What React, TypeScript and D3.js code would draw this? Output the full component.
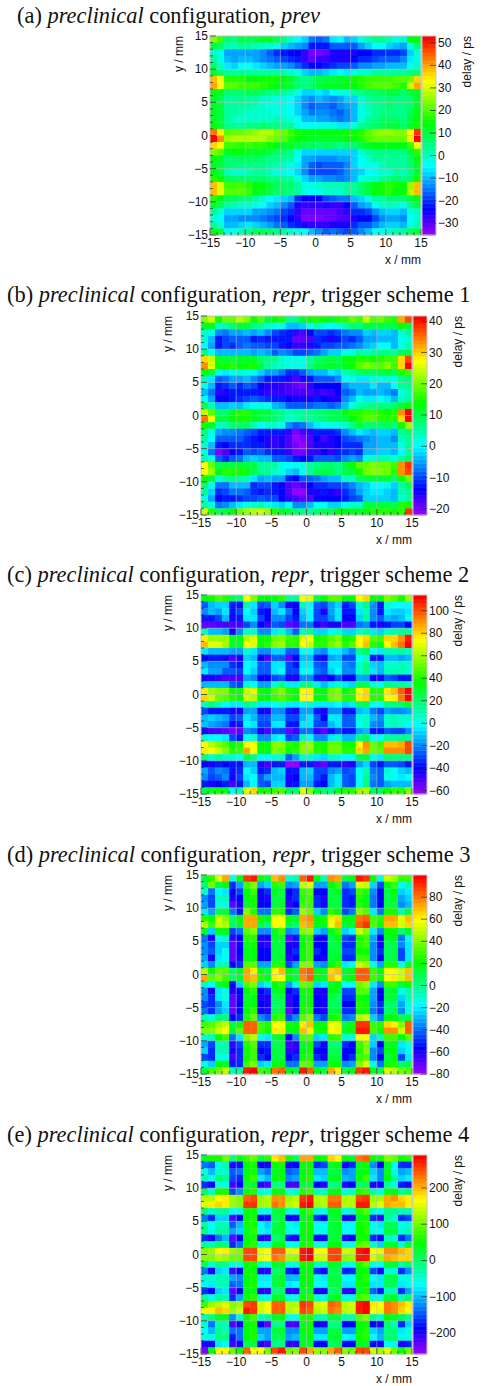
import React from "react"
import * as d3 from "d3"

// delay in ps, rows from y = 15 down to y = -15, columns from x = -15 to x = 15
const delayA: number[][] = [
  [24,19,6,5,9,8,10,11,11,8,4,-1,-5,-8,-15,-16,-15,-6,-5,-9,-8,-3,1,5,4,1,-3,-1,14,13],
  [10,7,1,1,3,2,1,0,0,-2,-7,-10,-12,-14,-22,-22,-22,-17,-16,-17,-16,-11,-8,-5,-5,-8,-9,-11,-2,6],
  [-1,-3,-12,-12,-11,-11,-12,-14,-16,-20,-22,-23,-24,-28,-32,-32,-30,-26,-26,-26,-25,-24,-23,-21,-20,-20,-20,-18,-7,-3],
  [2,-3,-10,-11,-10,-10,-12,-14,-15,-16,-18,-20,-22,-28,-30,-28,-27,-25,-25,-25,-23,-21,-20,-18,-17,-16,-16,-14,-6,-2],
  [6,0,-6,-7,-5,-4,-6,-7,-10,-11,-11,-13,-17,-20,-23,-23,-22,-20,-19,-19,-17,-14,-13,-11,-11,-10,-10,-9,-3,-1],
  [12,6,2,2,3,3,3,3,2,2,1,-1,-3,-8,-10,-10,-8,-6,-5,-6,-2,-1,0,2,2,3,3,2,4,7],
  [38,32,17,16,16,14,14,15,15,15,13,12,6,5,6,10,10,10,11,11,15,16,18,19,19,19,20,20,22,36],
  [40,32,20,20,19,18,18,16,15,13,12,10,6,5,6,10,11,12,12,13,14,17,18,20,20,20,18,17,30,40],
  [14,12,6,6,7,8,8,7,5,4,3,1,-3,-8,-8,-6,-7,-4,-3,-2,2,5,7,7,8,9,9,7,10,12],
  [11,8,3,2,4,3,3,0,0,-3,-3,-4,-7,-12,-14,-10,-11,-14,-11,-8,-8,0,3,5,5,7,5,4,7,12],
  [12,9,2,3,3,2,1,0,-2,-3,-3,-4,-7,-13,-16,-15,-15,-17,-14,-12,-10,-2,1,3,5,6,5,4,6,12],
  [12,10,3,2,1,0,0,0,-1,-2,-2,-5,-7,-12,-15,-14,-13,-15,-17,-14,-10,-3,0,3,5,5,5,5,8,13],
  [12,10,3,0,-1,-1,0,0,-1,1,0,-3,-5,-9,-10,-11,-12,-14,-15,-13,-9,-3,2,4,6,6,6,5,9,13],
  [13,10,4,3,3,4,4,6,5,4,3,2,-2,-4,-4,-3,-3,-3,-6,-6,-3,2,5,7,8,9,9,7,12,15],
  [44,34,20,22,22,24,26,28,28,24,22,18,15,14,14,13,13,13,14,15,15,17,20,24,25,25,24,24,32,49],
  [52,42,26,28,28,28,28,27,24,22,20,16,14,13,12,12,12,12,12,13,14,16,20,22,22,22,22,22,34,52],
  [36,33,18,18,17,18,17,17,15,14,12,11,10,8,8,7,8,7,5,7,7,9,11,13,13,13,13,14,18,32],
  [24,20,12,13,13,12,12,11,9,7,6,5,-2,-8,-8,-8,-8,-8,-8,-8,-8,0,3,4,4,5,5,5,9,16],
  [13,11,7,7,8,8,8,7,5,4,3,2,-4,-11,-11,-13,-13,-13,-12,-11,-7,-4,0,2,3,3,3,3,6,13],
  [12,10,6,4,4,5,5,4,3,1,0,-2,-6,-11,-16,-18,-17,-17,-16,-14,-8,-5,-3,-3,1,2,3,3,6,12],
  [13,10,1,-1,0,1,2,3,1,-3,-3,-5,-8,-13,-18,-19,-19,-18,-17,-14,-9,-7,-4,-2,-1,0,2,1,4,12],
  [17,14,8,6,6,6,7,7,5,4,3,2,-3,-8,-11,-12,-13,-14,-15,-14,-9,-3,-1,0,2,5,6,4,7,15],
  [38,31,19,18,18,16,13,14,10,8,7,6,3,-2,-3,-1,1,1,1,2,3,7,9,13,15,16,15,14,26,38],
  [38,31,20,20,20,18,14,12,9,7,7,5,3,-2,-4,-2,0,-1,0,2,3,7,9,13,15,16,14,14,27,38],
  [17,13,8,8,7,7,3,0,-5,-6,-7,-10,-20,-24,-24,-23,-18,-17,-15,-15,-10,-7,-2,2,3,7,7,6,9,13],
  [12,8,2,1,0,0,-2,-5,-7,-10,-13,-17,-25,-28,-28,-28,-26,-27,-27,-23,-17,-12,-9,-5,0,1,0,-3,5,9],
  [2,-3,-8,-8,-7,-8,-11,-12,-13,-15,-18,-21,-27,-31,-31,-31,-30,-31,-29,-28,-21,-20,-18,-14,-9,-7,-7,-9,-3,0],
  [-2,-4,-11,-12,-13,-14,-14,-15,-16,-19,-20,-23,-28,-32,-33,-32,-30,-30,-29,-29,-25,-24,-23,-19,-14,-12,-12,-13,-5,-1],
  [2,-3,-10,-10,-8,-6,-7,-10,-12,-15,-16,-20,-22,-25,-27,-27,-27,-26,-25,-25,-21,-17,-16,-13,-10,-8,-8,-9,-3,1],
  [14,9,-3,-3,1,4,8,8,7,5,2,-1,-3,-5,-10,-14,-16,-15,-17,-19,-16,-13,-10,-4,-2,0,2,2,8,10],
]

const delayB: number[][] = [
  [21,25,14,20,19,23,21,14,18,10,13,15,6,7,12,14,16,14,12,15,16,19,17,24,18,20,17,15,32,37],
  [12,12,3,4,8,10,11,7,6,3,2,2,-3,-4,-2,2,4,1,0,1,4,8,7,10,9,10,9,9,14,10],
  [3,1,-6,-7,-5,-5,-3,-5,-3,-6,-10,-11,-13,-16,-17,-14,-10,-10,-11,-10,-7,-6,-6,-2,-3,-2,-2,-4,3,6],
  [3,-3,-12,-10,-9,-8,-8,-12,-11,-12,-12,-13,-13,-19,-19,-17,-11,-13,-15,-13,-10,-11,-9,-5,-5,-3,-3,-4,1,3],
  [0,-5,-13,-10,-11,-8,-7,-9,-9,-10,-10,-12,-14,-16,-16,-15,-13,-10,-10,-8,-8,-7,-6,-3,-2,0,0,-3,2,4],
  [7,2,-4,-4,-4,-3,-3,-5,-4,-5,-8,-6,-7,-10,-10,-9,-7,-5,-2,-2,2,2,5,4,6,7,7,5,9,10],
  [30,24,12,11,11,12,12,12,8,7,7,3,2,2,2,5,8,9,11,9,13,13,16,15,14,16,17,17,30,37],
  [33,26,14,14,15,13,14,14,10,6,4,3,1,1,2,7,10,11,12,10,12,14,18,21,20,18,21,17,30,41],
  [13,10,1,-1,1,3,2,1,-2,-5,-5,-7,-11,-11,-8,-5,-3,-3,-1,-2,4,5,8,9,8,11,10,9,15,17],
  [4,-1,-9,-7,-5,-5,-4,-6,-8,-12,-13,-13,-15,-17,-15,-12,-9,-8,-8,-6,0,2,-1,-1,3,2,3,1,7,8],
  [1,-3,-12,-11,-9,-11,-9,-10,-14,-15,-15,-16,-17,-19,-20,-16,-14,-14,-14,-14,-6,-4,-3,-3,-1,-3,-3,0,5,7],
  [-3,-7,-16,-15,-12,-12,-12,-12,-15,-16,-16,-16,-18,-18,-17,-17,-16,-18,-16,-14,-9,-7,-3,-5,-5,-4,-5,-7,2,4],
  [0,-5,-14,-14,-12,-11,-10,-9,-10,-11,-12,-13,-14,-15,-15,-15,-12,-14,-15,-15,-6,-4,1,-1,-1,0,-1,-3,3,6],
  [9,4,-3,-3,-2,-4,-1,0,1,0,-3,-5,-9,-9,-8,-9,-7,-7,-8,-7,-3,2,4,6,7,7,7,8,11,13],
  [25,18,8,8,12,15,16,12,10,10,8,7,4,5,6,7,8,8,9,9,13,16,15,17,17,15,14,15,33,42],
  [35,27,10,10,13,14,14,12,10,9,8,5,3,4,5,6,7,8,9,9,11,13,15,18,18,16,15,15,30,41],
  [14,12,3,4,8,8,9,4,0,3,3,2,-6,-8,-7,-3,-1,0,1,1,3,7,11,8,8,8,9,7,14,22],
  [7,2,-5,-6,-6,-7,-9,-10,-12,-12,-13,-13,-16,-20,-18,-16,-13,-12,-12,-11,-6,-3,-1,-2,-3,-2,-2,-3,5,8],
  [5,0,-9,-9,-8,-8,-11,-12,-14,-15,-16,-15,-18,-21,-20,-18,-14,-17,-15,-14,-10,-9,-7,-6,-5,-4,-4,-6,4,6],
  [3,-3,-13,-14,-11,-11,-11,-13,-13,-15,-16,-15,-17,-20,-21,-18,-15,-15,-15,-14,-11,-11,-11,-5,-5,-3,-3,-4,2,5],
  [2,-7,-20,-18,-14,-13,-8,-10,-9,-11,-13,-13,-16,-20,-20,-16,-16,-14,-16,-13,-11,-10,-11,-4,-3,-2,-2,-4,0,5],
  [4,1,-9,-11,-8,-7,-3,-2,-4,-4,-8,-9,-10,-12,-14,-12,-8,-8,-9,-10,-6,-5,-6,2,3,4,4,2,6,9],
  [27,20,9,10,10,12,10,10,6,5,5,2,0,1,1,5,7,8,8,7,11,14,18,20,21,20,19,17,33,38],
  [27,22,13,15,15,14,14,9,7,5,3,2,-2,-3,0,5,9,10,9,7,9,11,14,20,21,21,19,16,33,37],
  [14,11,2,5,7,6,4,-1,-5,-4,-5,-5,-13,-14,-9,-9,-7,-5,-3,-3,4,3,9,10,10,11,11,8,14,20],
  [8,1,-7,-7,-3,-3,-3,-11,-10,-10,-12,-14,-18,-19,-18,-14,-11,-11,-10,-10,-9,-6,-3,-2,0,0,1,-2,6,9],
  [5,-2,-11,-10,-7,-7,-8,-11,-12,-11,-13,-14,-18,-21,-21,-15,-15,-13,-15,-16,-11,-9,-5,-2,-1,-1,-2,-4,4,6],
  [2,-5,-14,-13,-12,-11,-10,-10,-9,-10,-10,-14,-16,-18,-19,-17,-14,-14,-14,-14,-12,-10,-9,-2,-2,-2,-2,-4,3,6],
  [5,1,-7,-6,-4,-1,2,3,4,1,-1,-2,0,-6,-6,-3,0,0,-2,-2,2,3,3,10,10,11,10,9,15,14],
  [24,15,9,10,13,19,22,23,24,22,16,12,10,8,7,5,8,9,9,13,13,12,12,13,15,16,15,14,16,38],
]

const delayC: number[][] = [
  [35,38,50,42,25,20,72,56,33,33,36,42,14,14,72,70,25,38,50,47,35,35,72,80,33,33,55,48,38,60],
  [-25,-12,-8,-8,-35,-35,12,-5,-30,-25,-8,-18,-45,-40,10,0,-25,-30,-15,-8,-35,-30,5,15,-20,-35,5,-2,-2,0],
  [-20,-12,-15,-5,-35,-30,0,-8,-35,-40,-12,-5,-22,-40,-8,0,-30,-45,-15,-5,-35,-35,-4,10,-18,-35,-5,-8,-8,-5],
  [-35,-35,-30,-10,-45,-35,-5,-5,-30,-40,-20,-18,-30,-38,-10,-2,-30,-30,-18,-5,-40,-40,-8,12,-18,-25,-12,-15,-10,-2],
  [-55,-55,-52,-52,-52,-50,-28,-20,-40,-48,-25,-30,-55,-50,-22,-22,-45,-52,-42,-42,-50,-50,-22,-20,-38,-42,-38,-30,-30,-40],
  [5,-10,-10,-15,-42,-20,5,5,-18,-18,-5,5,-12,-25,10,15,-8,-8,0,5,-8,-8,5,12,-5,-8,5,10,12,12],
  [78,58,58,58,30,33,62,68,34,38,52,55,45,40,70,72,38,40,50,55,38,42,72,80,48,45,80,82,92,110],
  [85,70,68,58,30,30,75,68,35,40,55,58,42,40,72,65,42,40,52,58,42,48,75,85,42,38,72,85,95,112],
  [-5,-10,-12,-12,-15,-15,5,-3,-20,-20,-8,-8,-25,-25,0,0,-15,-20,-5,-3,-12,-20,15,25,0,-5,8,10,12,10],
  [-40,-38,-38,-42,-50,-42,-8,-10,-40,-50,-25,-25,-55,-40,-10,-10,-35,-45,-15,-12,-30,-30,-2,5,-35,-35,-10,-10,-15,-10],
  [-10,-20,-20,-20,-32,-38,0,-5,-25,-25,-5,-5,-30,-35,-5,-5,-25,-28,-5,-5,-20,-22,5,15,-8,-12,5,5,8,5],
  [-5,-15,-15,-25,-25,-30,-2,-8,-25,-25,-5,-2,-28,-28,-2,0,-22,-25,-8,0,-18,-18,5,15,-5,-10,10,8,8,5],
  [-42,-45,-48,-50,-52,-50,-15,-20,-40,-40,-30,-25,-42,-45,-20,-18,-35,-48,-40,-30,-40,-40,-15,-15,-40,-42,-25,-30,-35,-35],
  [-10,-12,-12,-10,-25,-30,5,0,-15,-15,5,15,-5,-5,15,15,-5,-10,-5,5,-5,-8,25,25,5,0,15,12,12,8],
  [78,58,55,55,38,38,65,68,38,35,50,55,42,38,72,78,35,35,52,55,35,40,72,80,42,40,78,85,98,112],
  [82,65,52,50,40,35,65,62,35,35,45,48,40,35,72,72,35,35,52,55,40,40,78,82,42,40,75,78,95,112],
  [10,15,8,0,-5,-5,15,8,-5,-5,0,5,-5,-5,0,5,-5,-5,-3,0,-8,-5,20,22,0,-2,15,15,20,30],
  [-30,-35,-38,-35,-42,-42,-15,-15,-40,-42,-18,-18,-38,-45,-15,-15,-38,-42,-20,-18,-35,-35,-10,-8,-22,-28,-15,-18,-18,-15],
  [-10,-8,-10,-15,-30,-25,-5,-12,-25,-25,-10,-10,-30,-30,-10,-5,-25,-40,-5,-5,-25,-25,5,5,-12,-20,5,10,5,5],
  [-12,-15,-20,-22,-42,-35,0,-5,-30,-30,-5,-5,-38,-35,-5,-5,-30,-30,-10,-5,-25,-25,0,8,-18,-22,5,8,5,0],
  [-45,-52,-50,-55,-58,-55,-20,-22,-45,-50,-30,-30,-55,-48,-22,-22,-48,-55,-38,-30,-38,-38,-15,-12,-35,-35,-25,-28,-30,-20],
  [5,0,0,-5,-28,-38,0,5,-18,-20,-5,0,-30,-25,10,0,-18,-18,-5,5,-10,-12,15,22,0,-2,12,12,15,12],
  [72,62,55,48,35,42,75,75,35,35,55,55,40,38,55,60,38,38,52,52,38,38,75,90,52,45,85,85,88,102],
  [78,75,65,55,42,45,88,75,35,35,55,52,38,40,55,55,40,38,52,52,40,40,80,88,52,50,90,90,90,102],
  [15,5,12,5,5,0,25,18,0,0,5,5,-25,-15,5,5,-5,-8,5,5,-2,-2,25,28,2,-5,20,18,15,15],
  [-40,-42,-38,-40,-38,-35,-10,-10,-45,-50,-38,-38,-62,-60,-38,-38,-50,-55,-35,-38,-48,-45,-15,-8,-28,-35,-25,-25,-30,-35],
  [-15,-25,-18,-22,-35,-32,-2,-8,-35,-32,-10,-8,-35,-35,-10,-8,-30,-30,-20,-15,-30,-25,-2,10,-22,-25,5,0,-8,-10],
  [-20,-28,-25,-20,-42,-30,-5,0,-25,-15,-12,-10,-42,-40,-10,-10,-30,-38,-10,-5,-25,-28,0,15,-20,-25,2,-2,-5,-2],
  [-38,-42,-40,-38,-52,-35,-12,0,-25,-28,-8,-8,-42,-38,-15,-15,-35,-40,-10,-5,-25,-30,0,15,-22,-25,-15,-12,-10,-10],
  [28,32,38,30,0,10,68,80,38,40,45,48,25,20,70,55,28,20,15,30,40,42,60,62,25,25,38,45,40,55],
]

const delayD: number[][] = [
  [10,25,55,72,-12,20,90,95,22,10,70,75,-10,-8,82,95,18,-8,75,72,10,20,95,90,18,-14,52,45,30,30],
  [5,38,12,18,-50,-30,28,40,-30,-25,25,30,-35,-30,50,55,-30,-30,20,30,-40,-30,55,50,-25,-45,20,30,-15,-8],
  [-10,-40,-18,-20,-55,-45,18,28,-55,-50,15,12,-55,-50,30,35,-55,-55,12,15,-50,-45,30,25,-35,-55,12,18,-25,-20],
  [-35,-45,-10,-8,-60,-58,18,22,-55,-60,12,12,-60,-50,25,28,-50,-60,10,10,-50,-52,25,20,-40,-55,10,15,-32,-25],
  [-30,-45,-15,-15,-72,-60,15,22,-55,-55,12,15,-65,-55,28,30,-50,-62,12,12,-50,-52,25,20,-40,-55,10,10,-35,-28],
  [-20,-30,8,10,-40,-52,40,25,-40,-40,25,25,-48,-42,45,38,-25,-35,25,20,-45,-40,42,32,-22,-40,22,22,-5,10],
  [25,18,50,42,5,18,72,72,22,20,60,60,22,15,72,75,20,22,55,65,18,20,80,85,28,25,72,72,55,70],
  [48,30,52,48,8,15,72,72,12,5,58,58,12,5,68,72,20,18,58,68,15,15,85,92,32,22,68,68,55,65],
  [15,-25,18,20,-45,-38,35,42,-35,-35,15,30,-35,-30,40,45,-25,-30,15,30,-25,-18,50,40,-20,-35,20,22,5,15],
  [-40,-60,-15,-10,-65,-55,25,25,-60,-62,15,12,-70,-52,22,25,-55,-55,12,18,-45,-48,25,30,-30,-55,15,18,-40,-15],
  [-35,-45,-25,-25,-72,-60,15,22,-60,-65,12,10,-62,-60,20,28,-55,-55,8,12,-50,-50,25,28,-35,-60,8,8,-35,-22],
  [-35,-42,-25,-15,-72,-55,18,18,-55,-55,10,12,-60,-50,22,28,-50,-55,10,10,-45,-45,22,22,-35,-50,8,10,-45,-22],
  [-30,-60,-22,-18,-70,-60,18,20,-55,-55,12,15,-65,-55,22,30,-55,-60,10,15,-50,-50,28,28,-35,-55,8,12,-45,-20],
  [-25,-35,-5,-8,-55,-48,35,35,-30,-30,25,25,-45,-30,40,42,-30,-35,20,28,-20,-15,50,45,-15,-30,25,25,-15,15],
  [48,22,38,32,5,15,72,62,18,12,60,68,20,12,80,85,18,15,65,68,15,18,82,85,30,18,60,60,50,70],
  [72,32,40,28,5,15,72,68,25,15,62,58,22,12,78,82,20,15,70,62,15,20,82,82,28,22,60,62,50,70],
  [-8,-18,12,18,-55,-25,35,40,-25,-10,20,25,-30,-15,38,35,-25,-20,12,18,-18,-18,38,45,-22,-35,28,30,12,22],
  [-35,-60,-20,-15,-62,-55,20,25,-55,-50,15,18,-55,-50,22,22,-60,-60,18,15,-45,-45,32,32,-30,-55,10,15,-15,-5],
  [-35,-50,-22,-15,-72,-60,15,20,-60,-62,8,10,-65,-58,15,22,-55,-62,10,5,-48,-48,22,20,-30,-55,10,12,-25,-8],
  [-45,-50,-35,-20,-70,-58,18,20,-55,-60,5,8,-65,-55,22,22,-55,-60,8,8,-55,-55,25,22,-35,-50,5,5,-30,-15],
  [-40,-50,-30,-25,-72,-58,18,25,-58,-60,8,10,-70,-58,22,25,-55,-60,10,12,-50,-50,22,22,-40,-50,5,12,-35,-12],
  [-5,-15,5,0,-55,-50,25,38,-35,-42,25,28,-45,-35,35,40,-40,-45,22,25,-40,-35,48,50,-25,-40,18,18,8,12],
  [28,32,45,50,10,22,82,82,28,25,60,60,22,20,62,68,18,22,60,55,10,22,92,92,30,25,65,62,42,82],
  [40,42,50,60,15,35,85,85,28,22,62,62,18,18,70,62,22,22,58,62,15,22,95,95,30,22,78,78,50,85],
  [-10,-5,18,28,-40,-20,42,48,-15,-22,12,15,-55,-35,32,32,-25,-20,25,30,-10,-15,60,60,-25,-8,30,30,20,35],
  [-30,-45,-5,-5,-65,-45,25,35,-50,-50,8,10,-68,-65,15,22,-45,-60,5,5,-50,-55,30,42,-25,-55,15,18,-22,-12],
  [-25,-50,-8,-8,-60,-48,22,30,-55,-52,12,10,-65,-62,20,22,-55,-55,8,8,-55,-55,25,42,-35,-45,18,18,-25,-15],
  [-45,-50,-15,-12,-68,-50,22,30,-50,-55,10,10,-55,-48,22,25,-50,-60,10,10,-55,-50,28,35,-35,-55,12,18,-45,-20],
  [-15,-25,18,15,-52,-48,28,42,-25,-20,18,18,-40,-40,38,35,-30,-30,22,20,-35,-30,40,55,-15,-40,22,25,5,12],
  [10,28,38,50,-5,0,95,98,30,25,80,85,20,10,95,85,20,10,72,62,10,20,90,95,18,10,55,48,38,32],
]

const delayE: number[][] = [
  [30,50,55,100,-10,50,80,95,20,70,175,200,60,-5,210,205,40,50,185,170,45,30,230,240,50,60,105,100,55,65],
  [-130,-140,-60,-30,-200,-180,40,60,-190,-200,60,60,-200,-190,50,40,-160,-150,30,40,-190,-170,30,55,-120,-190,30,-60,-170,-160],
  [-60,-100,-40,-40,-140,-130,45,60,-110,-130,30,45,-140,-130,40,50,-100,-100,20,20,-120,-110,35,55,-90,-120,30,-50,-110,-100],
  [-30,-60,-5,-20,-150,-160,60,75,-80,-100,40,50,-120,-110,60,65,-80,-85,30,30,-100,-110,50,75,-75,-125,45,-20,-90,-80],
  [-160,-195,-60,-60,-225,-200,20,35,-210,-215,-15,-10,-225,-225,20,25,-190,-205,-10,0,-210,-190,0,15,-195,-200,-25,-60,-180,-195],
  [0,-40,50,60,-150,-120,50,70,-50,-50,40,45,-60,-45,65,75,-30,-40,30,45,-60,-40,70,75,-35,-60,35,40,-20,0],
  [130,135,170,175,125,115,240,250,120,135,220,225,120,135,265,280,130,135,230,235,130,130,255,265,120,120,205,215,190,175],
  [155,180,185,175,125,115,265,265,120,135,235,225,135,145,270,285,125,130,245,240,130,135,270,280,130,150,210,195,195,175],
  [0,-40,-25,-25,-70,-60,40,60,-50,-60,20,30,-60,-50,60,75,-50,-55,30,35,-50,-45,70,85,-40,-65,-15,-10,-30,-30],
  [-130,-160,-90,-90,-220,-190,40,50,-190,-195,15,20,-190,-200,35,40,-160,-190,20,30,-195,-195,35,50,-160,-205,-20,-40,-170,-150],
  [-20,-70,-30,-35,-140,-100,55,60,-65,-85,10,35,-60,-80,40,50,-70,-70,20,30,-65,-70,50,65,-60,-75,15,15,-50,-45],
  [-10,-60,-20,-20,-115,-90,35,70,-60,-80,25,35,-55,-70,45,55,-60,-60,25,30,-70,-65,55,70,-55,-70,20,20,-45,-30],
  [-160,-200,-130,-100,-230,-190,40,50,-200,-210,5,15,-180,-195,40,45,-195,-195,25,20,-205,-190,50,60,-170,-195,-30,-40,-170,-130],
  [-20,-30,-5,-10,-170,-130,50,70,-60,-50,35,40,-70,-55,60,70,-50,-60,45,40,-60,-55,85,95,-40,-90,25,35,-45,20],
  [110,125,165,175,120,115,250,250,150,170,240,240,150,150,280,285,160,170,255,255,140,145,280,285,170,150,225,220,195,190],
  [115,115,130,125,100,100,250,250,150,165,235,225,120,120,275,285,145,145,250,255,115,120,275,280,140,125,205,200,185,185],
  [10,-40,-10,-20,-60,-40,45,50,-40,-55,30,30,-55,-45,60,60,-40,-40,35,30,-60,-60,70,85,-60,-70,20,20,-30,0],
  [-130,-200,-85,-75,-220,-185,50,40,-200,-205,0,15,-175,-185,40,40,-170,-195,10,10,-175,-170,40,60,-150,-200,-40,-45,-160,-125],
  [-40,-40,-30,-30,-110,-120,40,60,-80,-80,20,30,-100,-95,40,50,-60,-75,20,25,-70,-70,45,70,-70,-80,10,20,-60,-50],
  [-60,-80,-30,-35,-145,-130,45,60,-60,-65,25,35,-75,-70,45,45,-70,-70,15,25,-80,-75,50,60,-75,-80,10,15,-75,-50],
  [-165,-190,-85,-80,-235,-190,40,45,-200,-205,-10,5,-210,-205,30,35,-195,-195,5,10,-205,-200,35,50,-145,-175,-30,-35,-160,-110],
  [-20,-50,-20,-30,-165,-115,45,65,-45,-50,30,35,-55,-50,55,65,-40,-50,25,30,-60,-50,75,90,-50,-60,20,30,-30,5],
  [80,120,135,150,110,125,255,260,145,160,245,240,130,135,260,250,140,150,240,235,130,140,270,285,180,170,235,225,195,175],
  [165,175,195,185,125,145,270,265,145,165,245,240,135,145,255,245,130,140,230,225,135,140,275,285,165,150,235,225,185,170],
  [-30,-10,30,35,-120,-40,60,75,-40,-25,30,40,-60,-55,65,70,-25,-30,20,25,-30,-35,90,105,-25,-45,40,35,10,-20],
  [-40,-130,-30,-30,-225,-195,40,60,-190,-235,-10,-10,-225,-225,35,50,-190,-195,-10,-10,-190,-185,40,50,-190,-195,-5,-30,-160,-85],
  [-65,-100,-15,-30,-130,-130,40,55,-110,-115,20,30,-120,-125,45,50,-105,-105,20,25,-115,-105,45,65,-90,-115,-15,-5,-80,-60],
  [-50,-60,-15,-10,-180,-130,45,55,-85,-105,15,15,-110,-100,35,45,-80,-80,25,30,-70,-80,50,65,-70,-100,0,0,-60,-50],
  [-200,-195,-80,-70,-225,-195,15,25,-200,-215,-10,-10,-210,-210,30,35,-190,-190,0,10,-190,-190,30,35,-185,-195,-70,-60,-195,-175],
  [-240,40,170,170,100,55,245,170,165,100,250,280,100,115,250,205,120,115,205,240,110,100,255,250,140,120,155,100,55,100],
]

const axisTicks = [-15, -10, -5, 0, 5, 10, 15]
const minorTicks = d3.range(-15, 16)

const colorTicksA = [-30, -20, -10, 0, 10, 20, 30, 40, 50]
const colorTicksB = [-20, -10, 0, 10, 20, 30, 40]
const colorTicksC = [-60, -40, -20, 0, 20, 40, 60, 80, 100]
const colorTicksD = [-80, -60, -40, -20, 0, 20, 40, 60, 80]
const colorTicksE = [-200, -100, 0, 100, 200]

// ROOT's rainbow palette, 50 steps of hue
const palette = d3.range(50).map((i) => d3.hsl(280 - (i + 1) * 5.6, 1, 0.5).formatRgb())

const plotW = 211
const plotH = 199
const minus = (v: number) => (v < 0 ? "\u2212" + -v : "" + v)

function Heatmap(props: any) {
  const { left, top, data, range, ticks, yLabelX } = props
  const x = d3.scaleLinear().domain([-15, 15]).range([left, left + plotW])
  const y = d3.scaleLinear().domain([-15, 15]).range([top + plotH, top])
  const color = d3.scaleQuantize<string>().domain(range).range(palette)
  const c = d3.scaleLinear().domain(range).range([top + plotH, top])
  const barX = left + plotW + 1
  const barW = 14
  const steps = d3.range(50).map((i) => range[0] + ((range[1] - range[0]) * (i + 0.5)) / 50)
  const stepH = plotH / 50

  return (
    <g fontFamily="'Liberation Sans', sans-serif" fontSize={12} fill="#111">
      <g filter="url(#soft)">
        {data.map((row: number[], r: number) =>
          row.map((v, k) => (
            <rect
              key={r + "-" + k}
              x={x(-15 + k)}
              y={y(15 - r)}
              width={x(-14 + k) - x(-15 + k) + 0.4}
              height={y(14 - r) - y(15 - r) + 0.4}
              fill={color(v)}
            />
          ))
        )}
      </g>
      {axisTicks.slice(1, -1).map((t) => (
        <g key={t} stroke="#b9b9c4" strokeOpacity={0.55}>
          <line x1={x(t)} x2={x(t)} y1={top} y2={top + plotH} />
          <line x1={left} x2={left + plotW} y1={y(t)} y2={y(t)} />
        </g>
      ))}
      <rect x={left} y={top} width={plotW} height={plotH} fill="none" stroke="#c4c4c4" />
      {minorTicks.map((t) => {
        const len = t % 5 === 0 ? 6 : 3
        return (
          <g key={t} stroke="#333" strokeOpacity={0.75}>
            <line x1={left} x2={left + len} y1={y(t)} y2={y(t)} />
            <line x1={x(t)} x2={x(t)} y1={top + plotH} y2={top + plotH - len} />
          </g>
        )
      })}
      {axisTicks.map((t) => (
        <text key={"y" + t} x={left - 2} y={y(t) + 4} textAnchor="end">
          {minus(t)}
        </text>
      ))}
      {axisTicks.map((t) => (
        <text key={"x" + t} x={x(t)} y={top + plotH + 12} textAnchor="middle">
          {minus(t)}
        </text>
      ))}
      <text x={left + plotW} y={top + plotH + 29} textAnchor="end">
        x / mm
      </text>
      <text transform={`translate(${yLabelX},${top}) rotate(-90)`} textAnchor="end">
        y / mm
      </text>

      {steps.map((v, i) => (
        <rect
          key={i}
          x={barX}
          y={top + plotH - (i + 1) * stepH}
          width={barW}
          height={stepH + 0.4}
          fill={color(v)}
        />
      ))}
      <rect x={barX} y={top} width={barW} height={plotH} fill="none" stroke="#c4c4c4" />
      {ticks.map((t: number) => (
        <g key={t}>
          <line x1={barX + barW - 6} x2={barX + barW} y1={c(t)} y2={c(t)} stroke="#333" strokeOpacity={0.75} />
          <text x={barX + barW + 2} y={c(t) + 4}>
            {minus(t)}
          </text>
        </g>
      ))}
      <text transform={`translate(${left + 261},${top}) rotate(-90)`} textAnchor="end">
        delay / ps
      </text>
    </g>
  )
}

function Title(props: any) {
  return (
    <text x={props.x} y={props.y} fontFamily="'Liberation Serif', serif" fontSize={22.4} fill="#111">
      {props.label} <tspan fontStyle="italic">preclinical</tspan> configuration, <tspan fontStyle="italic">{props.mode}</tspan>
      {props.rest}
    </text>
  )
}

export default function App() {
  return (
    <svg width={493} height={1386} style={{ position: "absolute", left: 0, top: 0 }}>
      <defs>
        <filter id="soft" x="-2%" y="-2%" width="104%" height="104%">
          <feGaussianBlur stdDeviation={0.35} />
        </filter>
      </defs>
      <Title x={17} y={23} label="(a)" mode="prev" rest="" />
      <Heatmap left={210} top={36} data={delayA} range={[-35.2, 53]} ticks={colorTicksA} yLabelX={183} />

      <Title x={7} y={302} label="(b)" mode="repr" rest=", trigger scheme 1" />
      <Heatmap left={201} top={316} data={delayB} range={[-22, 41.7]} ticks={colorTicksB} yLabelX={172} />

      <Title x={7} y={582} label="(c)" mode="repr" rest=", trigger scheme 2" />
      <Heatmap left={201} top={595} data={delayC} range={[-63, 114]} ticks={colorTicksC} yLabelX={172} />

      <Title x={7} y={862} label="(d)" mode="repr" rest=", trigger scheme 3" />
      <Heatmap left={201} top={875} data={delayD} range={[-80, 100]} ticks={colorTicksD} yLabelX={172} />

      <Title x={7} y={1142} label="(e)" mode="repr" rest=", trigger scheme 4" />
      <Heatmap left={201} top={1155} data={delayE} range={[-258, 291]} ticks={colorTicksE} yLabelX={172} />
    </svg>
  )
}
